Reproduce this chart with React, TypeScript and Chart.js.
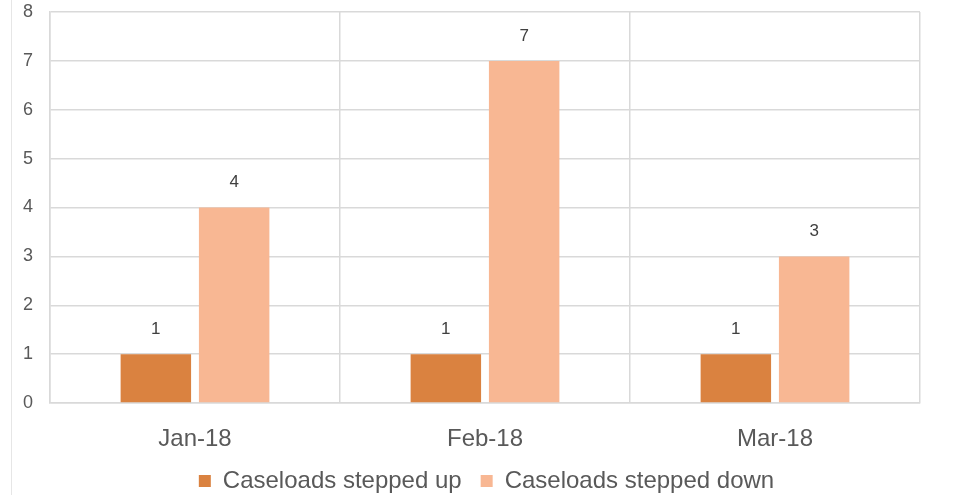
import React, { useEffect, useRef } from "react";
import { Chart, registerables } from "chart.js";

Chart.register(...registerables);

const categories = ["Jan-18", "Feb-18", "Mar-18"];
const steppedUp = [1, 1, 1];
const steppedDown = [4, 7, 3];
const seriesNames = ["Caseloads stepped up", "Caseloads stepped down"];
const yTicks = [0, 1, 2, 3, 4, 5, 6, 7, 8];

const FONT = "'Liberation Sans', Arial, sans-serif";

const valueLabels = {
  id: "valueLabels",
  afterDatasetsDraw(chart: any) {
    const ctx = chart.ctx;
    ctx.save();
    ctx.font = `17px ${FONT}`;
    ctx.fillStyle = "#404040";
    ctx.textAlign = "center";
    ctx.textBaseline = "middle";
    chart.data.datasets.forEach((ds: any, i: number) => {
      const meta = chart.getDatasetMeta(i);
      meta.data.forEach((bar: any, j: number) => {
        ctx.fillText(String(ds.data[j]), bar.x, bar.y - 25);
      });
    });
    ctx.restore();
  },
};

export default function App() {
  const ref = useRef<HTMLCanvasElement>(null);
  useEffect(() => {
    if (!ref.current) return;
    const chart = new Chart(ref.current, {
      type: "bar",
      data: {
        labels: categories,
        datasets: [
          {
            label: seriesNames[0],
            data: steppedUp,
            backgroundColor: "#DA8240",
            barPercentage: 0.9,
            categoryPercentage: 0.54,
          },
          {
            label: seriesNames[1],
            data: steppedDown,
            backgroundColor: "#F8B793",
            barPercentage: 0.9,
            categoryPercentage: 0.54,
          },
        ],
      },
      options: {
        animation: false,
        responsive: false,
        maintainAspectRatio: false,
        layout: { padding: { left: 0, right: 0, top: 12, bottom: -8 } },
        plugins: {
          legend: {
            position: "bottom",
            labels: {
              font: { family: FONT, size: 24 },
              color: "#595959",
              boxWidth: 12,
              boxHeight: 12,
              padding: 19,
            },
          },
          tooltip: { enabled: false },
        },
        scales: {
          x: {
            grid: { color: "#D9D9D9", lineWidth: 1.5, drawTicks: false, offset: true },
            border: { color: "#D9D9D9", width: 1.5 },
            ticks: { font: { family: FONT, size: 24 }, color: "#595959", padding: 22 },
            afterFit: (axis: any) => {
              axis.height = 47;
              axis.paddingLeft = 0;
              axis.paddingRight = 41;
            },
          },
          y: {
            min: 0,
            max: 8,
            afterBuildTicks: (axis: any) => {
              axis.ticks = yTicks.map((v) => ({ value: v }));
            },
            grid: { color: "#D9D9D9", lineWidth: 1.5, drawTicks: false },
            border: { color: "#D9D9D9", width: 1.5 },
            ticks: { font: { family: FONT, size: 18 }, color: "#595959", padding: 17 },
            afterFit: (axis: any) => {
              axis.width = 38;
              axis.paddingTop = 0;
              axis.paddingBottom = 0;
            },
          },
        },
      },
      plugins: [valueLabels],
    });
    return () => chart.destroy();
  }, []);
  return (
    <div style={{ position: "fixed", left: 0, top: 0, width: 961, height: 495, background: "#fff" }}>
      <div style={{ position: "absolute", left: 11, top: 0, width: 950, height: 495, borderLeft: "1px solid #E6E6E6" }}>
        <canvas ref={ref} width={949} height={495} style={{ display: "block" }} />
      </div>
    </div>
  );
}
